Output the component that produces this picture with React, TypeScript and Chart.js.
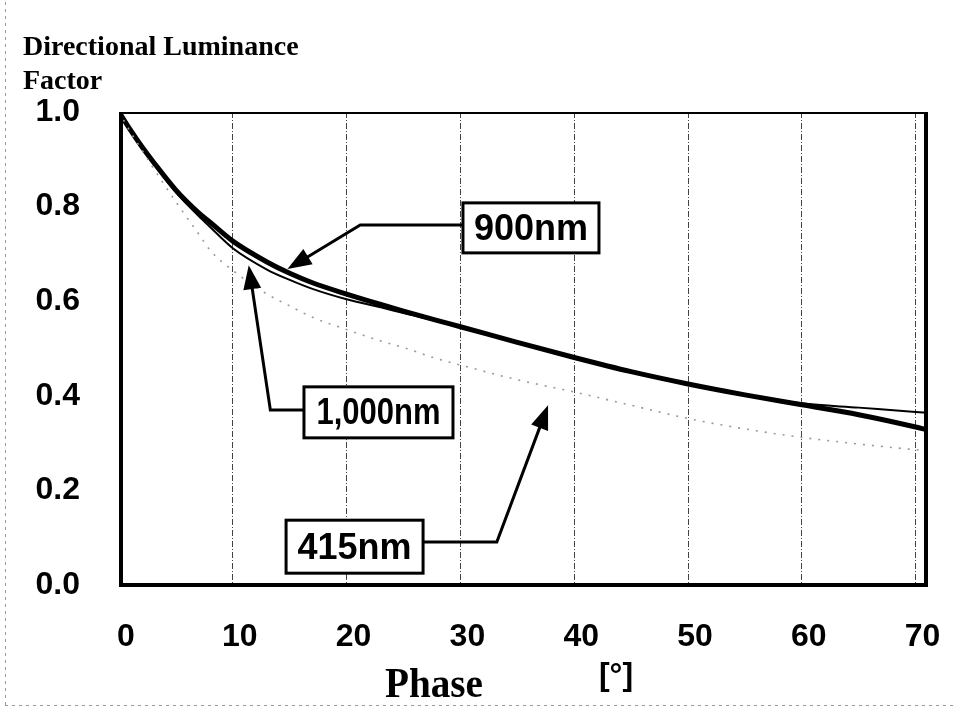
import React, { useEffect, useRef } from "react";
import { Chart, registerables } from "chart.js";

Chart.register(...registerables);

// ---- data ----
const phaseDeg = [0, 1, 2, 3, 5, 7, 8, 10, 13, 15, 17, 20, 23, 25, 28, 30, 35, 40, 45, 50, 55, 60, 65, 70, 71];
const lum900 = [1.0, 0.962, 0.927, 0.895, 0.835, 0.787, 0.767, 0.727, 0.683, 0.659, 0.639, 0.615, 0.593, 0.579, 0.559, 0.546, 0.513, 0.481, 0.451, 0.425, 0.402, 0.381, 0.36, 0.334, 0.328];
const lum1000 = [1.0, 0.962, 0.926, 0.892, 0.83, 0.78, 0.757, 0.712, 0.667, 0.645, 0.626, 0.604, 0.587, 0.575, 0.558, 0.545, 0.512, 0.48, 0.45, 0.425, 0.403, 0.384, 0.375, 0.366, 0.364];
const lum415 = [1.0, 0.958, 0.92, 0.882, 0.81, 0.742, 0.708, 0.665, 0.615, 0.59, 0.566, 0.54, 0.516, 0.502, 0.478, 0.465, 0.434, 0.408, 0.38, 0.352, 0.33, 0.312, 0.298, 0.286, 0.284];
const xTicks = [0, 10, 20, 30, 40, 50, 60, 70];
const yTicks = [0, 0.2, 0.4, 0.6, 0.8, 1.0];
const seriesLabels = ["900nm", "1,000nm", "415nm"];
const yTitleLines = ["Directional Luminance", "Factor"];
const xTitle = "Phase";
const xUnit = "[°]";

// ---- callout layout (data coordinates) ----
const callouts = [
  { text: seriesLabels[0], cx: 36.2, cy: 0.755, w: 136, h: 50, tw: 119, path: [[30.2, 0.761], [21.2, 0.761], [14.8, 0.668]] },
  { text: seriesLabels[1], cx: 22.8, cy: 0.365, w: 149, h: 51, tw: 124, path: [[16.3, 0.37], [13.3, 0.37], [11.4, 0.676]] },
  { text: seriesLabels[2], cx: 20.7, cy: 0.081, w: 137, h: 53, tw: 119, path: [[26.7, 0.091], [33.2, 0.091], [37.7, 0.38]] },
];

const SANS = "'Liberation Sans', Arial, sans-serif";
const SERIF = "'Liberation Serif', 'Times New Roman', serif";

const overlay = {
  id: "overlay",
  afterDraw(chart: any) {
    const { ctx, chartArea: a, scales } = chart;
    const xs = scales.x;
    const ys = scales.y;
    ctx.save();

    // scan border remnants
    ctx.strokeStyle = "#999";
    ctx.lineWidth = 1;
    ctx.setLineDash([3, 4]);
    ctx.beginPath();
    ctx.moveTo(5.5, 2);
    ctx.lineTo(5.5, 706);
    ctx.moveTo(5, 705.5);
    ctx.lineTo(955, 705.5);
    ctx.stroke();
    ctx.setLineDash([]);

    // plot frame
    ctx.strokeStyle = "#000";
    ctx.lineWidth = 2;
    ctx.beginPath();
    ctx.moveTo(a.left, a.top + 1);
    ctx.lineTo(a.right, a.top + 1);
    ctx.stroke();
    ctx.lineWidth = 4;
    ctx.beginPath();
    ctx.moveTo(a.left + 2, a.top);
    ctx.lineTo(a.left + 2, a.bottom);
    ctx.lineTo(a.right - 1, a.bottom);
    ctx.lineTo(a.right - 1, a.top);
    ctx.stroke();

    // callouts
    for (const c of callouts) {
      const pts = c.path.map(([x, y]) => [xs.getPixelForValue(x), ys.getPixelForValue(y)]);
      const n = pts.length;
      const [tx, ty] = pts[n - 1];
      const [px, py] = pts[n - 2];
      const ang = Math.atan2(ty - py, tx - px);
      const headL = 24;
      const headW = 9;
      const bx = tx - headL * Math.cos(ang);
      const by = ty - headL * Math.sin(ang);
      ctx.strokeStyle = "#000";
      ctx.lineWidth = 3;
      ctx.lineJoin = "miter";
      ctx.beginPath();
      ctx.moveTo(pts[0][0], pts[0][1]);
      for (let i = 1; i < n - 1; i++) ctx.lineTo(pts[i][0], pts[i][1]);
      ctx.lineTo(bx + 2 * Math.cos(ang), by + 2 * Math.sin(ang));
      ctx.stroke();
      ctx.fillStyle = "#000";
      ctx.beginPath();
      ctx.moveTo(tx, ty);
      ctx.lineTo(bx + headW * Math.sin(ang), by - headW * Math.cos(ang));
      ctx.lineTo(bx - headW * Math.sin(ang), by + headW * Math.cos(ang));
      ctx.closePath();
      ctx.fill();

      const cx = xs.getPixelForValue(c.cx);
      const cy = ys.getPixelForValue(c.cy);
      ctx.fillStyle = "#fff";
      ctx.fillRect(cx - c.w / 2, cy - c.h / 2, c.w, c.h);
      ctx.lineWidth = 3;
      ctx.strokeRect(cx - c.w / 2, cy - c.h / 2, c.w, c.h);
      ctx.fillStyle = "#000";
      ctx.font = `bold 36px ${SANS}`;
      ctx.textAlign = "center";
      ctx.textBaseline = "middle";
      ctx.fillText(c.text, cx, cy + 2, c.tw);
    }

    // y title
    ctx.fillStyle = "#000";
    ctx.textAlign = "left";
    ctx.textBaseline = "alphabetic";
    ctx.font = `bold 28px ${SERIF}`;
    ctx.fillText(yTitleLines[0], 23, 55, 282);
    ctx.fillText(yTitleLines[1], 23, 89);

    // x title
    ctx.font = `bold 42px ${SERIF}`;
    ctx.fillText(xTitle, 385, 697, 98);
    ctx.font = `bold 32px ${SANS}`;
    ctx.textAlign = "center";
    ctx.textBaseline = "middle";
    ctx.fillText(xUnit, 616, 676, 37);

    ctx.restore();
  },
};

export default function App() {
  const ref = useRef<HTMLCanvasElement | null>(null);

  useEffect(() => {
    document.body.style.margin = "0";
    const canvas = ref.current;
    if (!canvas) return;
    const mk = (vals: number[]) => phaseDeg.map((x, i) => ({ x, y: vals[i] }));
    const chart = new Chart(canvas, {
      type: "line",
      data: {
        datasets: [
          {
            label: seriesLabels[2],
            data: mk(lum415),
            borderColor: "#999",
            borderWidth: 1.6,
            borderDash: [2, 7],
            pointRadius: 0,
            cubicInterpolationMode: "monotone",
            fill: false,
          },
          {
            label: seriesLabels[1],
            data: mk(lum1000),
            borderColor: "#000",
            borderWidth: 2,
            pointRadius: 0,
            cubicInterpolationMode: "monotone",
            fill: false,
          },
          {
            label: seriesLabels[0],
            data: mk(lum900),
            borderColor: "#000",
            borderWidth: 5,
            pointRadius: 0,
            cubicInterpolationMode: "monotone",
            fill: false,
          },
        ],
      },
      options: {
        animation: false,
        responsive: true,
        maintainAspectRatio: false,
        layout: { padding: { left: 0, top: 112, right: 28, bottom: 0 } },
        plugins: { legend: { display: false }, tooltip: { enabled: false } },
        scales: {
          x: {
            type: "linear",
            min: 0,
            max: 71,
            afterBuildTicks: (s: any) => {
              s.ticks = xTicks.map((v) => ({ value: v }));
            },
            afterFit: (s: any) => {
              s.height = 126;
              s.paddingLeft = 0;
              s.paddingRight = 0;
            },
            grid: { display: true, drawTicks: false, color: "#444", lineWidth: 1 },
            border: { display: false, dash: [6, 2, 1, 2] },
            ticks: {
              padding: 33,
              labelOffset: 7,
              color: "#000",
              font: { family: SANS, size: 32, weight: "bold" },
              maxRotation: 0,
              callback: (v: any) => String(v),
            },
          },
          y: {
            type: "linear",
            min: 0,
            max: 1,
            afterBuildTicks: (s: any) => {
              s.ticks = yTicks.map((v) => ({ value: v }));
            },
            afterFit: (s: any) => {
              s.width = 119;
              s.paddingTop = 0;
              s.paddingBottom = 0;
            },
            grid: { display: false, drawTicks: false },
            border: { display: false },
            ticks: {
              padding: 39,
              color: "#000",
              font: { family: SANS, size: 32, weight: "bold" },
              callback: (v: any) => Number(v).toFixed(1),
            },
          },
        },
      },
      plugins: [overlay],
    } as any);
    return () => chart.destroy();
  }, []);

  return (
    <div style={{ position: "fixed", left: 0, top: 0, width: 955, height: 711, background: "#fff" }}>
      <canvas ref={ref} />
    </div>
  );
}
